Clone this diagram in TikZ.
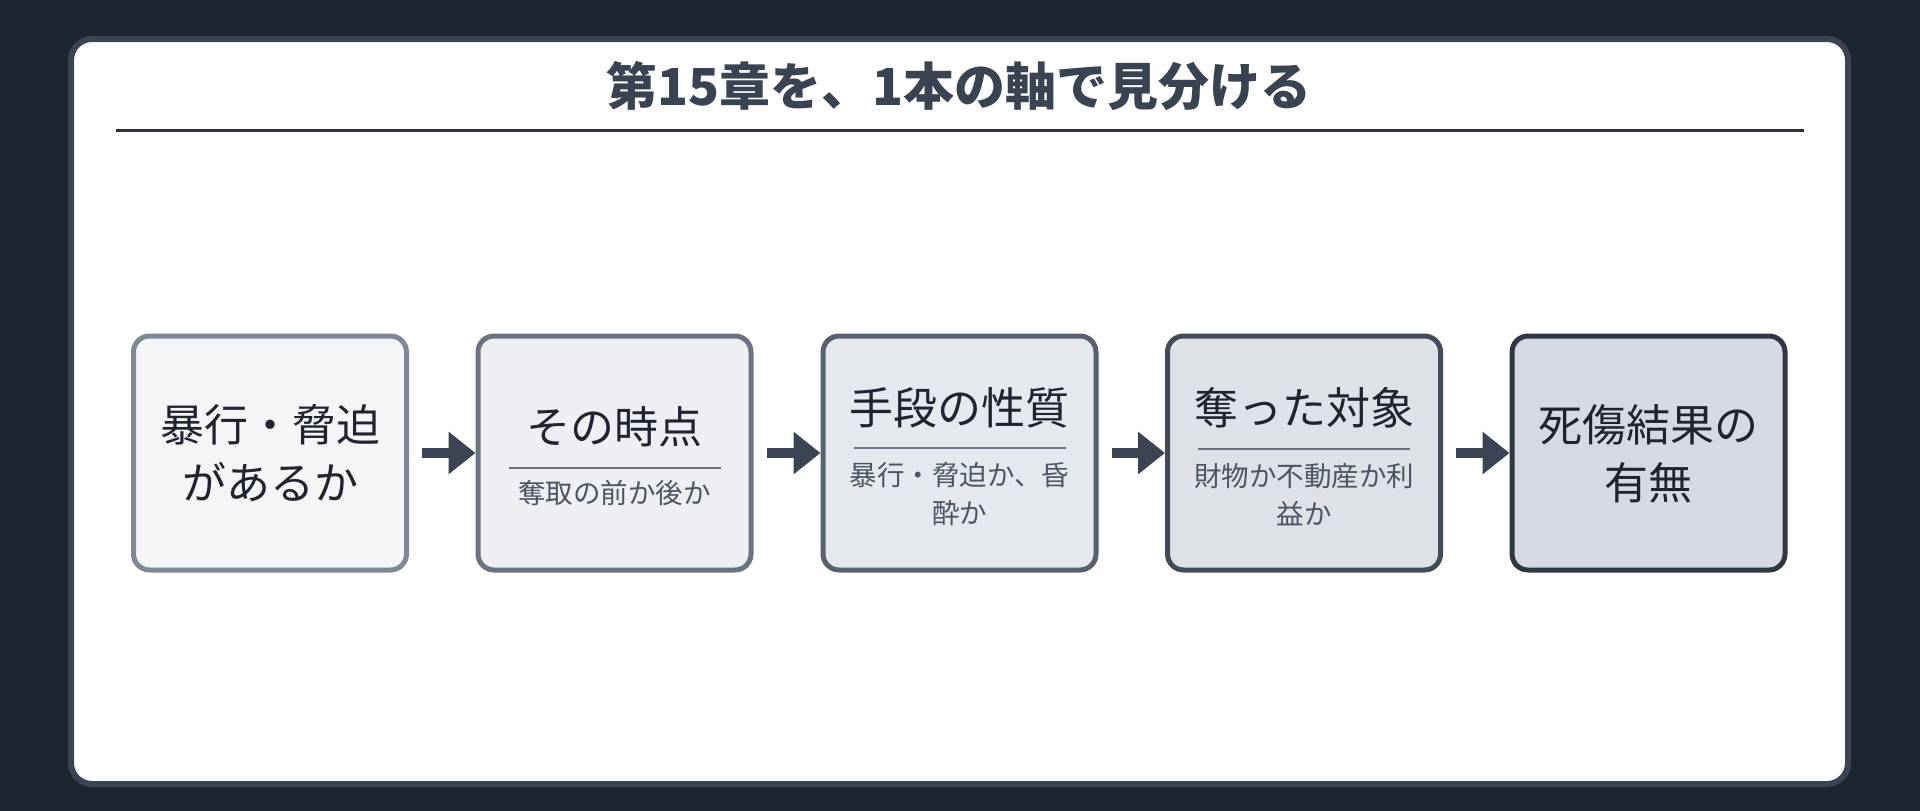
\documentclass[tikz,border=0pt]{standalone}
\usepackage{fontspec}
\usepackage{xcolor}
\newfontfamily\jpfont{Noto Sans CJK JP}
\usetikzlibrary{arrows.meta,positioning}
\definecolor{bgdark}{HTML}{1E2430}
\definecolor{cardline}{HTML}{3B4453}
\definecolor{titleink}{HTML}{3A4352}
\definecolor{ink}{HTML}{1F2430}
\definecolor{subink}{HTML}{4B5563}
\definecolor{rulegray}{HTML}{6B7280}
\definecolor{titlerule}{HTML}{2D3340}
\definecolor{fillA}{HTML}{F4F5F7}
\definecolor{fillB}{HTML}{EDEFF3}
\definecolor{fillC}{HTML}{E5E8ED}
\definecolor{fillD}{HTML}{DEE1E6}
\definecolor{fillE}{HTML}{D5D9E1}
\definecolor{lineA}{HTML}{808896}
\definecolor{lineB}{HTML}{6B7381}
\definecolor{lineC}{HTML}{596170}
\definecolor{lineD}{HTML}{434B59}
\definecolor{lineE}{HTML}{2F3644}
\tikzset{%
  stage box/.style={%
    draw,
    line width=5pt,
    rounded corners=16pt,
    minimum width=273pt,
    minimum height=234pt
  }
}
\tikzset{%
  main label/.style={%
    align=center,
    text=ink,
    font=\jpfont\fontsize{44}{58}\selectfont
  }
}
\tikzset{%
  sub label/.style={%
    align=center,
    text=subink,
    font=\jpfont\fontsize{27.5}{38}\selectfont
  }
}
\tikzset{%
  divider/.style={%
    line width=2.5pt,
    draw=rulegray
  }
}
\tikzset{%
  flow/.style={%
    line width=10pt,
    draw=cardline,
    -{Triangle[length=27pt,width=41pt]}
  }
}
\begin{document}
\begin{tikzpicture}[x=1pt,y=-1pt]
  \fill [bgdark] (0,0) rectangle (1920,811);
  \draw [fill=white, draw=cardline, line width=6pt, rounded corners=21pt] (71,39) rectangle (1848,784);
  \node [text=titleink, font=\jpfont\bfseries\fontsize{51}{60}\selectfont] (title) at (959,86) {第15章を、1本の軸で見分ける};
  \draw [line width=3pt, draw=titlerule] (116,130) -- (1804,130);
  % the five stages
  \node [stage box, fill=fillA, draw=lineA] (b1) at (270,453) {};
  \node [stage box, fill=fillB, draw=lineB] (b2) at (614.5,453) {};
  \node [stage box, fill=fillC, draw=lineC] (b3) at (959.5,453) {};
  \node [stage box, fill=fillD, draw=lineD] (b4) at (1304,453) {};
  \node [stage box, fill=fillE, draw=lineE] (b5) at (1648.5,453) {};
  \node [main label] (m1) at (270,453) {暴行・脅迫\\があるか};
  \node [main label] (m2) at (614.5,427) {その時点};
  \node [sub label] (s2) at (614.5,493) {奪取の前か後か};
  \node [main label] (m3) at (959.5,408) {手段の性質};
  \node [sub label] (s3) at (959.5,494) {暴行・脅迫か、昏\\酔か};
  \node [main label] (m4) at (1304,408) {奪った対象};
  \node [sub label] (s4) at (1304,495) {財物か不動産か利\\益か};
  \node [main label] (m5) at (1648.5,454) {死傷結果の\\有無};
  \draw [divider] (508.5,468) -- (720.5,468);
  \draw [divider] (853.5,448) -- (1065.5,448);
  \draw [divider] (1198,449) -- (1410,449);
  % arrows between stages
  \draw [flow] ([xshift=13pt]b1.east) -- (b2.west);
  \draw [flow] ([xshift=13pt]b2.east) -- (b3.west);
  \draw [flow] ([xshift=13pt]b3.east) -- (b4.west);
  \draw [flow] ([xshift=13pt]b4.east) -- (b5.west);
\end{tikzpicture}
\end{document}
